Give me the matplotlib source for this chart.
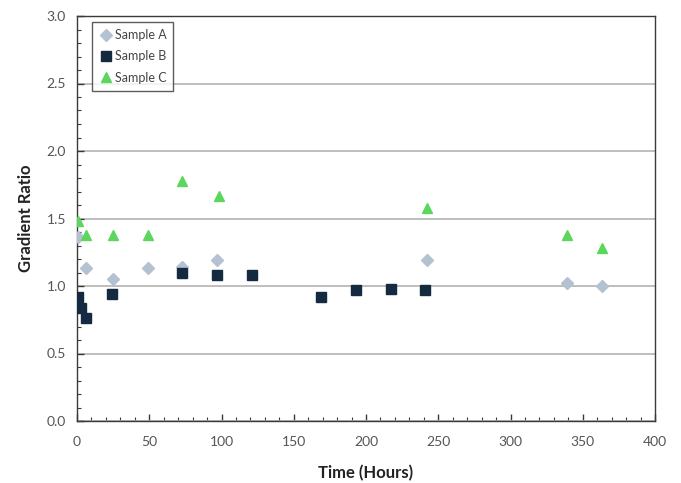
import matplotlib
matplotlib.use("Agg")
import matplotlib.pyplot as plt
from matplotlib.ticker import MultipleLocator

plt.rcParams['font.family'] = ['Lato', 'DejaVu Sans']

time_a = [1, 6, 25, 49, 73, 97, 242, 339, 363]
ratio_a = [1.36, 1.13, 1.05, 1.13, 1.14, 1.19, 1.19, 1.02, 1.00]

time_b = [1, 3, 6, 24, 73, 97, 121, 169, 193, 217, 241]
ratio_b = [0.92, 0.84, 0.76, 0.94, 1.10, 1.08, 1.08, 0.92, 0.97, 0.98, 0.97]

time_c = [1, 6, 25, 49, 73, 98, 242, 339, 363]
ratio_c = [1.48, 1.38, 1.38, 1.38, 1.78, 1.67, 1.58, 1.38, 1.28]

labels = ["Sample A", "Sample B", "Sample C"]

fig = plt.figure(figsize=(6.81, 4.83), dpi=100)
ax = fig.add_axes([77/681, 1-421/483, (655-77)/681, (421-16)/483])

ax.plot(time_a, ratio_a, linestyle='none', marker='D', markersize=6.5,
        color='#b4c1d1', label=labels[0], zorder=3)
ax.plot(time_b, ratio_b, linestyle='none', marker='s', markersize=6.5,
        color='#132a40', label=labels[1], zorder=3)
ax.plot(time_c, ratio_c, linestyle='none', marker='^', markersize=7,
        color='#5cd65c', label=labels[2], zorder=3)

ax.set_xlim(0, 400)
ax.set_ylim(0, 3.0)
ax.xaxis.set_major_locator(MultipleLocator(50))
ax.xaxis.set_minor_locator(MultipleLocator(10))
ax.yaxis.set_major_locator(MultipleLocator(0.5))
ax.yaxis.set_minor_locator(MultipleLocator(0.1))
ax.yaxis.set_major_formatter(matplotlib.ticker.FormatStrFormatter('%.1f'))

ax.grid(axis='y', which='major', color='#b3b3b3', linewidth=1.2, zorder=0)
ax.set_axisbelow(True)

for s in ax.spines.values():
    s.set_color('#3a3a3a')
    s.set_linewidth(1.0)

ax.tick_params(axis='both', which='major', direction='in', length=5, width=1,
               color='#3a3a3a', labelsize=10, labelcolor='#555555', pad=8)
ax.tick_params(axis='x', which='major', pad=11)
ax.tick_params(axis='both', which='minor', direction='in', length=3, width=0.8,
               color='#3a3a3a')
ax.tick_params(axis='y', which='both', right=False)
ax.tick_params(axis='x', which='both', top=False)

ax.set_xlabel('Time (Hours)', fontsize=12, fontweight='bold', color='#222222', labelpad=12)
ax.set_ylabel('Gradient Ratio', fontsize=12, fontweight='bold', color='#222222', labelpad=9)

leg = ax.legend(loc='upper left', bbox_to_anchor=(0.026, 0.985), borderaxespad=0,
                fontsize=9, frameon=True, fancybox=False, edgecolor='#333333',
                handletextpad=0.15, handlelength=1.1, borderpad=0.55,
                labelspacing=0.75)
leg.get_frame().set_linewidth(1.0)
for t in leg.get_texts():
    t.set_color('#444444')

fig.savefig('out.png', dpi=100)
